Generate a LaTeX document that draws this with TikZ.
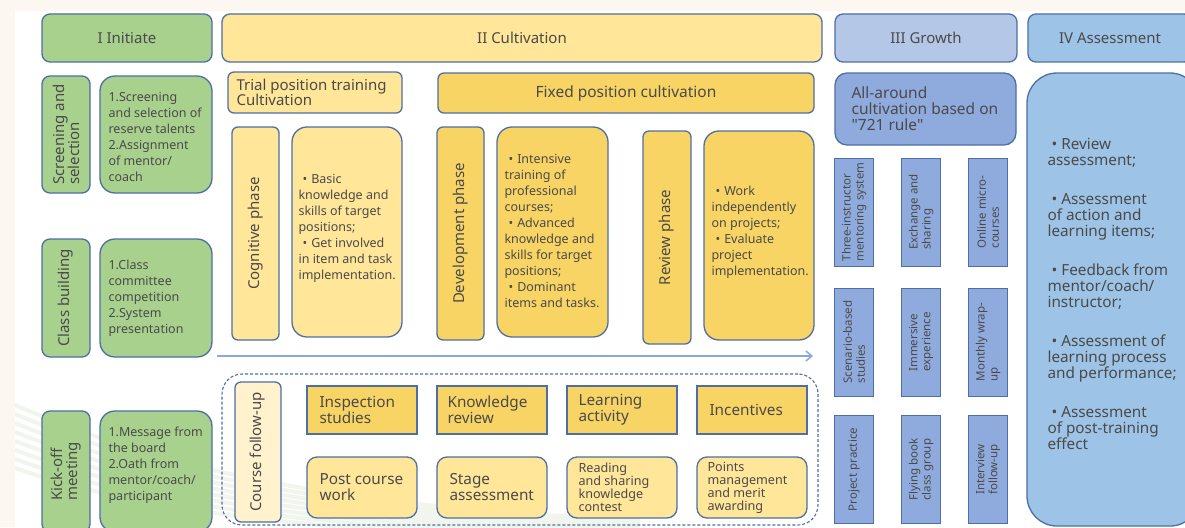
\documentclass[tikz,border=0pt]{standalone}
\usepackage{fontspec}
\setmainfont{Noto Sans}
\usetikzlibrary{arrows.meta}
\definecolor{bord}{HTML}{4E6FA5}
\definecolor{grn}{HTML}{A9D18E}
\definecolor{ylw}{HTML}{FFE699}
\definecolor{ylwd}{HTML}{F8D465}
\definecolor{ylwl}{HTML}{FFF2CC}
\definecolor{blu1}{HTML}{B4C7E7}
\definecolor{blu2}{HTML}{8FAADC}
\definecolor{blu3}{HTML}{9DC3E6}
\definecolor{txt}{HTML}{4A4A4A}
\definecolor{beige}{HTML}{FCF7F1}
\definecolor{arrc}{HTML}{8CA8DA}
\definecolor{swoosh}{HTML}{F1F5EE}
\newcommand\bul{\hspace*{4pt}•\hspace{4pt}}
\tikzset{
  bx/.style={draw=bord, line width=1.3pt, inner sep=0pt, text=txt},
  hdr/.style={bx, minimum height=48pt, rounded corners=8pt, font=\fontsize{15}{16}\selectfont},
  vlab/.style={bx, rotate=90, align=left, rounded corners=6pt, font=\fontsize{15}{15}\selectfont},
  tx/.style={text=txt, inner sep=0pt, align=left, anchor=west},
  small/.style={font=\fontsize{12.5}{16}\selectfont},
  mid/.style={font=\fontsize{15.3}{16}\selectfont},
  tiny/.style={bx, fill=blu2, rotate=90, align=left, line width=1pt, minimum width=108pt, minimum height=39pt, font=\fontsize{11.5}{13}\selectfont}
}
\begin{document}
\begin{tikzpicture}[x=1pt,y=-1pt]
\useasboundingbox (0,0) rectangle (1185,527);
\fill[beige] (0,0) rectangle (1185,527);
\fill[white] (15,11) rectangle (1185,527);
% faint background swooshes
\begin{scope}
\clip (15,11) rectangle (1185,527);
\foreach \i in {0,...,7}{
  \draw[swoosh, line width=4pt] (15,{405+\i*9}) .. controls (110,{445+\i*8}) and (260,{505+\i*4}) .. (640,{520+\i*3});
}
\end{scope}

% headers
\node[hdr, fill=grn, minimum width=170pt] (h1) at (127,38) {I Initiate};
\node[hdr, fill=ylw, minimum width=600pt] (h2) at (522,38) {II Cultivation};
\node[hdr, fill=blu1, minimum width=182pt] (h3) at (926,38) {III Growth};
\node[hdr, fill=blu3, minimum width=164pt] (h4) at (1110,38) {IV Assessment};

% Initiate column
\node[vlab, fill=grn, rounded corners=8pt, minimum width=117pt, minimum height=48pt] (g1v) at (66,134.5) {Screening and\\selection};
\node[bx, fill=grn, rounded corners=15pt, minimum width=112pt, minimum height=117pt] (g1t) at (156,134.5) {};
\node[tx, small] (g1x) at ([xshift=9pt,yshift=-2pt]g1t.west) {1.Screening\\and selection of\\reserve talents\\2.Assignment\\of mentor/\\coach};

\node[vlab, fill=grn, rounded corners=8pt, minimum width=118pt, minimum height=48pt] (g2v) at (66,298) {Class building};
\node[bx, fill=grn, rounded corners=15pt, minimum width=112pt, minimum height=118pt] (g2t) at (156,298) {};
\node[tx, small] (g2x) at ([xshift=9pt]g2t.west) {1.Class\\committee\\competition\\2.System\\presentation};

\node[vlab, fill=grn, rounded corners=8pt, minimum width=121pt, minimum height=48pt] (g3v) at (66,471.5) {Kick-off\\meeting};
\node[bx, fill=grn, rounded corners=15pt, minimum width=112pt, minimum height=121pt] (g3t) at (156,471.5) {};
\node[tx, small] (g3x) at ([xshift=9pt,yshift=6pt]g3t.west) {1.Message from\\the board\\2.Oath from\\mentor/coach/\\participant};

% Cultivation: trial position
\node[bx, fill=ylw, rounded corners=6pt, minimum width=174pt, minimum height=41pt] (trial) at (315,92.5) {};
\node[tx, font=\fontsize{15}{15}\selectfont] (trialx) at ([xshift=9pt]trial.west) {Trial position training\\Cultivation};
\node[vlab, fill=ylw, minimum width=213pt, minimum height=47pt] (cog) at (255.5,233.5) {Cognitive phase};
\node[bx, fill=ylw, rounded corners=15pt, minimum width=110pt, minimum height=210pt] (basic) at (347,232) {};
\node[tx, small] (basicx) at ([xshift=7pt,yshift=3.5pt]basic.west) {\bul Basic\\knowledge and\\skills of target\\positions;\\\bul Get involved\\in item and task\\implementation.};

% Cultivation: fixed position
\node[bx, fill=ylwd, rounded corners=6pt, minimum width=376pt, minimum height=40pt, font=\fontsize{15.5}{16}\selectfont] (fixed) at (626,93) {Fixed position cultivation};
\node[vlab, fill=ylwd, minimum width=213pt, minimum height=47pt] (dev) at (460.5,233.5) {Development phase};
\node[bx, fill=ylwd, rounded corners=15pt, minimum width=111pt, minimum height=210pt] (inten) at (552.5,232) {};
\node[tx, small] (intenx) at ([xshift=8pt,yshift=1pt]inten.west) {\bul Intensive\\training of\\professional\\courses;\\\bul Advanced\\knowledge and\\skills for target\\positions;\\\bul Dominant\\items and tasks.};
\node[vlab, fill=ylwd, minimum width=213pt, minimum height=48pt] (rev) at (667,237.5) {Review phase};
\node[bx, fill=ylwd, rounded corners=15pt, minimum width=110pt, minimum height=209pt] (work) at (759,235.5) {};
\node[tx, small] (workx) at ([xshift=8pt,yshift=3pt]work.west) {\bul Work\\independently\\on projects;\\\bul Evaluate\\project\\implementation.};

% arrow
\coordinate (as) at (217,356);
\coordinate (ae) at (813,356);
\draw[arrc, line width=1.5pt, -{Straight Barb[length=6pt,width=10pt]}] (as) -- (ae);

% course follow-up group
\node[draw=bord, line width=1.1pt, dash pattern=on 3pt off 2pt, rounded corners=20pt, minimum width=596pt, minimum height=151pt] (cfb) at (520,449.5) {};
\node[vlab, fill=ylwl, minimum width=140pt, minimum height=46pt] (cf) at (258,452) {Course follow-up};

\node[bx, fill=ylwd, minimum width=110pt, minimum height=48pt] (insp) at (362,410) {};
\node[tx, mid] (inspx) at ([xshift=13pt]insp.west) {Inspection\\studies};
\node[bx, fill=ylwd, minimum width=110pt, minimum height=48pt] (know) at (492,410) {};
\node[tx, mid] (knowx) at ([xshift=11pt]know.west) {Knowledge\\review};
\node[bx, fill=ylwd, minimum width=110pt, minimum height=48pt] (learn) at (622,410) {};
\node[tx, mid] (learnx) at ([xshift=12pt]learn.west) {Learning\\activity};
\node[bx, fill=ylwd, minimum width=110pt, minimum height=48pt] (incent) at (752,410) {};
\node[tx, mid] (incentx) at ([xshift=13pt]incent.west) {Incentives};

\node[bx, fill=ylw, rounded corners=10pt, minimum width=110pt, minimum height=61pt] (post) at (362,487.5) {};
\node[tx, mid] (postx) at ([xshift=13pt]post.west) {Post course\\work};
\node[bx, fill=ylw, rounded corners=10pt, minimum width=110pt, minimum height=61pt] (stage) at (492,487.5) {};
\node[tx, mid] (stagex) at ([xshift=13pt]stage.west) {Stage\\assessment};
\node[bx, fill=ylw, rounded corners=10pt, minimum width=110pt, minimum height=61pt] (read) at (622,487.5) {};
\node[tx, font=\fontsize{12.6}{13}\selectfont] (readx) at ([xshift=12pt]read.west) {Reading\\and sharing\\knowledge\\contest};
\node[bx, fill=ylw, rounded corners=10pt, minimum width=110pt, minimum height=61pt] (points) at (752,487.5) {};
\node[tx, font=\fontsize{12.6}{13}\selectfont] (pointsx) at ([xshift=11pt]points.west) {Points\\management\\and merit\\awarding};

% Growth
\node[bx, fill=blu2, rounded corners=12pt, minimum width=181pt, minimum height=72pt] (all) at (925.5,109) {};
\node[tx, font=\fontsize{15.5}{16}\selectfont] (allx) at ([xshift=17pt]all.west) {All-around\\cultivation based on\\{\addfontfeature{Ligatures=TeXOff}"721 rule"}};

\node[tiny] (s11) at (854,212) {Three-instructor\\mentoring system};
\node[tiny] (s12) at (921,212) {Exchange and\\sharing};
\node[tiny] (s13) at (988,212) {Online micro-\\courses};
\node[tiny] (s21) at (854,342) {Scenario-based\\studies};
\node[tiny] (s22) at (921,342) {Immersive\\experience};
\node[tiny] (s23) at (988,342) {Monthly wrap-\\up};
\node[tiny] (s31) at (854,469.5) {Project practice};
\node[tiny] (s32) at (921,469.5) {Flying book\\class group};
\node[tiny] (s33) at (988,469.5) {Interview\\follow-up};

% Assessment
\node[bx, fill=blu3, rounded corners=30pt, minimum width=173pt, minimum height=453pt] (asm) at (1113.5,299.5) {};
\node[tx, font=\fontsize{15.3}{16}\selectfont] (asmx) at ([xshift=21pt,yshift=6pt]asm.west) {\bul Review\\assessment;\\[23pt]\bul Assessment\\of action and\\learning items;\\[23pt]\bul Feedback from\\mentor/coach/\\instructor;\\[23pt]\bul Assessment of\\learning process\\and performance;\\[23pt]\bul Assessment\\of post-training\\effect};
\end{tikzpicture}
\end{document}
